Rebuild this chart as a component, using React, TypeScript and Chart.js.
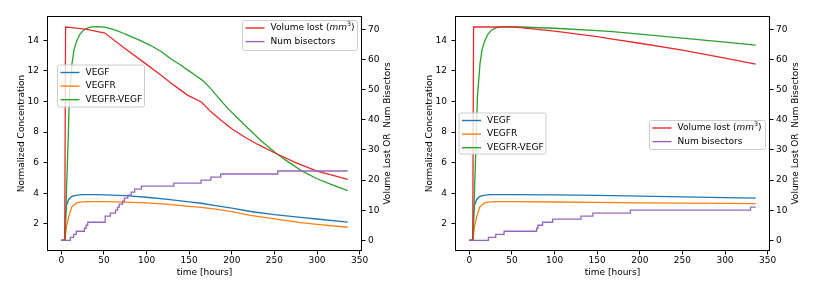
import React, { useEffect, useRef } from 'react';
import { Chart, registerables } from 'chart.js';
Chart.register(...registerables);

const FONT = '"DejaVu Sans", sans-serif';

// tick labels
const xTicks = [0, 50, 100, 150, 200, 250, 300, 350];
const concTicks = [2, 4, 6, 8, 10, 12, 14];
const countTicks = [0, 10, 20, 30, 40, 50, 60, 70];

// ---------- left panel ----------
const L_vegfT = [0, 4, 5, 6, 8.6, 12, 16.5, 25, 40, 50, 75, 100, 125, 150, 164, 181, 200, 222, 250, 281, 300, 336];
const L_vegf = [0.93, 0.95, 2.5, 3.2, 3.6, 3.78, 3.87, 3.91, 3.91, 3.9, 3.85, 3.74, 3.6, 3.44, 3.35, 3.2, 3.03, 2.81, 2.6, 2.42, 2.32, 2.12];
const L_vegfrT = [0, 4, 4.7, 6, 8.6, 12.6, 18.5, 25, 30, 50, 75, 100, 125, 150, 164, 181, 200, 222, 250, 281, 300, 336];
const L_vegfr = [0.93, 0.95, 1.2, 1.8, 2.48, 3.13, 3.39, 3.44, 3.45, 3.45, 3.42, 3.37, 3.27, 3.15, 3.08, 2.96, 2.8, 2.56, 2.33, 2.08, 1.97, 1.78];
const L_complexT = [0, 4.5, 6, 8, 9.5, 12.6, 15, 18.4, 22, 26.3, 32, 37, 42, 47, 52, 58, 65, 72, 80, 91, 105, 117, 130, 140, 148, 158, 166, 175, 185, 195, 207, 219, 235, 252, 265, 281, 300, 318, 336];
const L_complex = [0.93, 0.93, 4.0, 7.5, 10.3, 12.5, 13.4, 14.0, 14.4, 14.67, 14.82, 14.87, 14.88, 14.87, 14.84, 14.76, 14.62, 14.47, 14.28, 14.02, 13.65, 13.26, 12.72, 12.38, 12.06, 11.68, 11.36, 10.85, 10.2, 9.56, 8.9, 8.25, 7.4, 6.62, 6.1, 5.5, 4.95, 4.55, 4.17];
const L_volumeT = [0, 4, 5, 10, 30, 51, 75, 100, 117, 132, 148, 155, 164, 175, 187, 200, 215, 230, 252, 275, 300, 320, 336];
const L_volume = [0, 0, 70.8, 70.7, 70.0, 68.8, 63.6, 58.4, 54.8, 51.5, 48.2, 47.2, 46.0, 42.8, 39.9, 37.0, 34.3, 31.9, 28.8, 25.8, 23.0, 21.5, 20.2];
const L_bisectT = [0, 10.6, 14.5, 17.5, 27, 29, 31, 51.5, 57.5, 63.5, 66, 68, 72, 74, 78, 82, 86, 94, 132, 164, 175.5, 187, 254, 336];
const L_bisect = [0, 1, 2, 3, 4, 5, 6, 8, 9, 10, 11, 12, 13, 14, 15, 16, 17, 18, 19, 20, 21, 22, 23, 23];

// ---------- right panel ----------
const R_vegfT = [0, 4, 5, 6, 8.6, 12, 16.5, 25, 50, 100, 150, 200, 250, 300, 336];
const R_vegf = [0.93, 0.95, 2.5, 3.2, 3.6, 3.78, 3.87, 3.91, 3.91, 3.89, 3.86, 3.81, 3.76, 3.71, 3.68];
const R_vegfrT = [0, 4, 4.7, 6, 8.6, 12.6, 18.5, 25, 30, 50, 100, 150, 200, 250, 300, 336];
const R_vegfr = [0.93, 0.95, 1.2, 1.8, 2.48, 3.13, 3.39, 3.44, 3.45, 3.45, 3.43, 3.41, 3.38, 3.36, 3.34, 3.32];
const R_complexT = [0, 4.5, 6, 8, 9.5, 12.6, 15, 18.4, 22, 26.3, 32, 37, 42, 50, 60, 100, 150, 168, 200, 250, 300, 336];
const R_complex = [0.93, 0.93, 4.0, 7.5, 10.3, 12.5, 13.4, 14.0, 14.4, 14.67, 14.82, 14.87, 14.88, 14.88, 14.86, 14.78, 14.62, 14.56, 14.4, 14.13, 13.88, 13.68];
const R_volumeT = [0, 4, 5, 50, 60, 100, 150, 168, 200, 250, 300, 336];
const R_volume = [0, 0, 70.8, 70.8, 70.6, 69.4, 67.6, 66.8, 65.4, 63.1, 60.5, 58.5];
const R_bisectT = [0, 22.4, 31, 40.8, 79, 80.5, 86, 97.8, 131, 145, 189, 330, 336];
const R_bisect = [0, 1, 2, 3, 4, 5, 6, 7, 8, 9, 10, 11, 11];

const BLUE = '#1f77b4';
const ORANGE = '#ff7f0e';
const GREEN = '#2ca02c';
const RED = '#e82a2a';
const PURPLE = '#9467bd';

const zip = (t: number[], v: number[]) => t.map((x, i) => ({ x, y: v[i] }));

type Part = { t: string; italic?: boolean; sup?: boolean };
type LegendItem = { color: string; parts: Part[] };
type LegendBox = { x: number; y: number; w: number; h: number; items: LegendItem[] };

const concItems: LegendItem[] = [
  { color: BLUE, parts: [{ t: 'VEGF' }] },
  { color: ORANGE, parts: [{ t: 'VEGFR' }] },
  { color: GREEN, parts: [{ t: 'VEGFR-VEGF' }] },
];
const countItems: LegendItem[] = [
  { color: RED, parts: [{ t: 'Volume lost (' }, { t: 'mm', italic: true }, { t: '3', sup: true }, { t: ')' }] },
  { color: PURPLE, parts: [{ t: 'Num bisectors' }] },
];

const decorPlugin = {
  id: 'mplDecor',
  afterDraw(chart: any, _args: any, opts: any) {
    const ctx: CanvasRenderingContext2D = chart.ctx;
    const a = chart.chartArea;
    ctx.save();
    // frame
    ctx.strokeStyle = '#000';
    ctx.lineWidth = 1;
    const l = Math.round(a.left) + 0.5, t = Math.round(a.top) + 0.5;
    const r = Math.round(a.right) - 0.5, b = Math.round(a.bottom) - 0.5;
    ctx.strokeRect(l, t, r - l, b - t);

    // axis titles
    ctx.fillStyle = '#000';
    ctx.font = `9px ${FONT}`;
    ctx.textAlign = 'center';
    ctx.textBaseline = 'middle';
    ctx.fillText('time [hours]', (a.left + a.right) / 2, 272.5);
    const cy = (a.top + a.bottom) / 2;
    ctx.save();
    ctx.translate(22, cy);
    ctx.rotate(-Math.PI / 2);
    ctx.fillText('Normalized Concentration', 0, 0);
    ctx.restore();
    ctx.save();
    ctx.translate(387.5, cy);
    ctx.rotate(-Math.PI / 2);
    ctx.fillText('Volume Lost OR  Num Bisectors', 0, 0);
    ctx.restore();

    // legends
    const boxes: LegendBox[] = opts.legends || [];
    for (const bx of boxes) {
      const rr = 2;
      ctx.beginPath();
      ctx.moveTo(bx.x + rr, bx.y);
      ctx.lineTo(bx.x + bx.w - rr, bx.y);
      ctx.quadraticCurveTo(bx.x + bx.w, bx.y, bx.x + bx.w, bx.y + rr);
      ctx.lineTo(bx.x + bx.w, bx.y + bx.h - rr);
      ctx.quadraticCurveTo(bx.x + bx.w, bx.y + bx.h, bx.x + bx.w - rr, bx.y + bx.h);
      ctx.lineTo(bx.x + rr, bx.y + bx.h);
      ctx.quadraticCurveTo(bx.x, bx.y + bx.h, bx.x, bx.y + bx.h - rr);
      ctx.lineTo(bx.x, bx.y + rr);
      ctx.quadraticCurveTo(bx.x, bx.y, bx.x + rr, bx.y);
      ctx.closePath();
      ctx.fillStyle = 'rgba(255,255,255,0.8)';
      ctx.fill();
      ctx.strokeStyle = '#cccccc';
      ctx.lineWidth = 1;
      ctx.stroke();
      bx.items.forEach((it, i) => {
        const y = bx.y + 7.5 + i * 13.6;
        ctx.strokeStyle = it.color;
        ctx.lineWidth = 1.4;
        ctx.beginPath();
        ctx.moveTo(bx.x + 3, y);
        ctx.lineTo(bx.x + 22, y);
        ctx.stroke();
        let x = bx.x + 28;
        ctx.fillStyle = '#000';
        ctx.textAlign = 'left';
        ctx.textBaseline = 'middle';
        for (const p of it.parts) {
          if (p.sup) {
            ctx.font = `6.3px ${FONT}`;
            ctx.fillText(p.t, x, y - 3.2);
          } else {
            ctx.font = `${p.italic ? 'oblique ' : ''}9px ${FONT}`;
            ctx.fillText(p.t, x, y);
          }
          x += ctx.measureText(p.t).width;
        }
      });
    }
    ctx.restore();
  },
};

type PanelProps = {
  vegf: { x: number; y: number }[];
  vegfr: { x: number; y: number }[];
  complex: { x: number; y: number }[];
  volume: { x: number; y: number }[];
  bisect: { x: number; y: number }[];
  legends: LegendBox[];
};

function tickAxis(ticks: number[], extra: any) {
  return {
    type: 'linear',
    afterBuildTicks: (axis: any) => {
      axis.ticks = ticks.map((v) => ({ value: v }));
    },
    grid: {
      display: true,
      drawOnChartArea: false,
      drawTicks: true,
      tickLength: 3.5,
      color: '#000',
      lineWidth: 1,
    },
    border: { display: false },
    ...extra,
  };
}

function Panel(props: PanelProps) {
  const ref = useRef<HTMLCanvasElement | null>(null);
  useEffect(() => {
    if (!ref.current) return;
    const lineDs = (label: string, data: any[], color: string, axis: string, stepped = false) => ({
      label,
      data,
      borderColor: color,
      backgroundColor: color,
      borderWidth: 1.3,
      pointRadius: 0,
      fill: false,
      tension: 0,
      stepped,
      yAxisID: axis,
    });
    const chart = new Chart(ref.current, {
      type: 'line',
      data: {
        datasets: [
          lineDs('Num bisectors', props.bisect, PURPLE, 'y2', true),
          lineDs('Volume lost (mm3)', props.volume, RED, 'y2'),
          lineDs('VEGFR-VEGF', props.complex, GREEN, 'y'),
          lineDs('VEGFR', props.vegfr, ORANGE, 'y'),
          lineDs('VEGF', props.vegf, BLUE, 'y'),
        ],
      } as any,
      options: {
        animation: false,
        responsive: false,
        devicePixelRatio: 1,
        parsing: false as any,
        normalized: true,
        layout: { padding: { top: 16, left: 0, right: 0, bottom: 0 } },
        plugins: {
          legend: { display: false },
          tooltip: { enabled: false },
          mplDecor: { legends: props.legends },
        } as any,
        scales: {
          x: tickAxis(xTicks, {
            position: 'bottom',
            min: -16.8,
            max: 352.8,
            ticks: { font: { family: FONT, size: 9 }, color: '#000', padding: 1, maxRotation: 0, autoSkip: false },
            afterFit: (s: any) => { s.height = 33; },
          }),
          y: tickAxis(concTicks, {
            position: 'left',
            min: 0.23,
            max: 15.58,
            ticks: { font: { family: FONT, size: 9 }, color: '#000', padding: 4.5, autoSkip: false },
            afterFit: (s: any) => { s.width = 47; },
          }),
          y2: tickAxis(countTicks, {
            position: 'right',
            min: -3.55,
            max: 74.45,
            ticks: { font: { family: FONT, size: 9 }, color: '#000', padding: 2.5, autoSkip: false },
            afterFit: (s: any) => { s.width = 46; },
          }),
        } as any,
      },
      plugins: [decorPlugin as any],
    });
    return () => chart.destroy();
  }, []);
  return <canvas ref={ref} width={408} height={284} style={{ display: 'block', width: 408, height: 284 }} />;
}

export default function App() {
  return (
    <div style={{ position: 'absolute', left: 0, top: 0, width: 816, height: 284, display: 'flex', background: '#fff' }}>
      <Panel
        vegf={zip(L_vegfT, L_vegf)}
        vegfr={zip(L_vegfrT, L_vegfr)}
        complex={zip(L_complexT, L_complex)}
        volume={zip(L_volumeT, L_volume)}
        bisect={zip(L_bisectT, L_bisect)}
        legends={[
          { x: 57.5, y: 65, w: 87, h: 42, items: concItems },
          { x: 242.5, y: 20.5, w: 115, h: 30, items: countItems },
        ]}
      />
      <Panel
        vegf={zip(R_vegfT, R_vegf)}
        vegfr={zip(R_vegfrT, R_vegfr)}
        complex={zip(R_complexT, R_complex)}
        volume={zip(R_volumeT, R_volume)}
        bisect={zip(R_bisectT, R_bisect)}
        legends={[
          { x: 51, y: 113, w: 87, h: 41, items: concItems },
          { x: 241.5, y: 120.5, w: 116, h: 29, items: countItems },
        ]}
      />
    </div>
  );
}
